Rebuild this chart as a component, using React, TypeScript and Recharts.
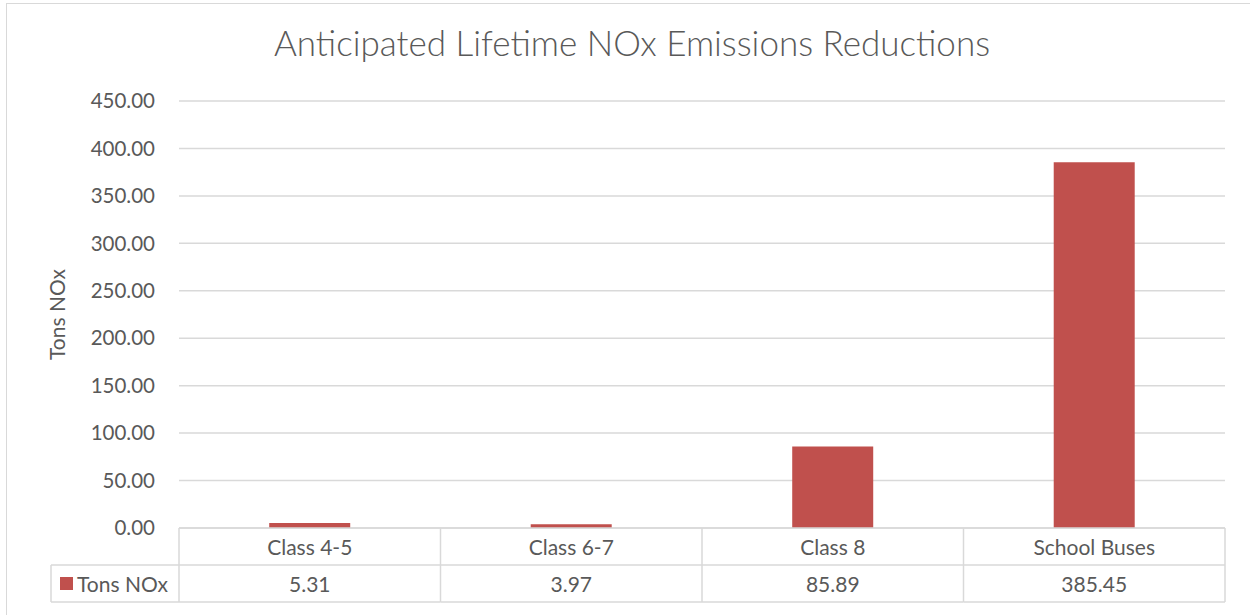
import React from "react";
import { BarChart, Bar, XAxis, YAxis, CartesianGrid } from "recharts";

const CATEGORIES = ["Class 4-5", "Class 6-7", "Class 8", "School Buses"];
const TONS_NOX = [5.31, 3.97, 85.89, 385.45];
const Y_TICKS = [0, 50, 100, 150, 200, 250, 300, 350, 400, 450];
const SERIES_NAME = "Tons NOx";

const data = CATEGORIES.map((name, i) => ({ name, tons: TONS_NOX[i] }));

const W = 1250;
const H = 615;
const MARGIN = { top: 101, right: 25, bottom: 0, left: 0 };
const Y_AXIS_W = 179;
const X_AXIS_H = 87;
const PLOT_W = W - MARGIN.left - MARGIN.right - Y_AXIS_W;
const CELL_W = PLOT_W / CATEGORIES.length;
const ROW_H = 37;
const LEGEND_X = 51;

const FONT = "Lato, 'Open Sans', sans-serif";
const TEXT = "#595959";
const LINE = "#d9d9d9";
const BAR = "#c0504d";
const TABLE_FS = 21;

if (typeof document !== "undefined") document.body.style.margin = "0";

function TableTick(props: any) {
  const { x, y, payload } = props;
  const i = payload.index;
  const half = CELL_W / 2;
  const left = x - half;
  const right = x + half;
  return (
    <g>
      {/* row lines */}
      <line x1={left} x2={right} y1={y + ROW_H} y2={y + ROW_H} stroke={LINE} strokeWidth={1.5} />
      <line x1={left} x2={right} y1={y + ROW_H * 2} y2={y + ROW_H * 2} stroke={LINE} strokeWidth={1.5} />
      <line x1={right} x2={right} y1={y} y2={y + ROW_H * 2} stroke={LINE} strokeWidth={1.5} />
      {i === 0 && (
        <g>
          <line x1={left} x2={left} y1={y} y2={y + ROW_H * 2} stroke={LINE} strokeWidth={1.5} />
          <line x1={LEGEND_X} x2={left} y1={y + ROW_H} y2={y + ROW_H} stroke={LINE} strokeWidth={1.5} />
          <line x1={LEGEND_X} x2={left} y1={y + ROW_H * 2} y2={y + ROW_H * 2} stroke={LINE} strokeWidth={1.5} />
          <line x1={LEGEND_X} x2={LEGEND_X} y1={y + ROW_H} y2={y + ROW_H * 2} stroke={LINE} strokeWidth={1.5} />
          <rect x={60} y={y + ROW_H * 1.5 - 6.5} width={13} height={13} fill={BAR} />
          <text x={77} y={y + ROW_H * 1.5} dominantBaseline="central" fontSize={TABLE_FS} fill={TEXT} fontFamily={FONT}>
            {SERIES_NAME}
          </text>
        </g>
      )}
      <text x={x} y={y + ROW_H / 2} textAnchor="middle" dominantBaseline="central" fontSize={TABLE_FS} fill={TEXT} fontFamily={FONT}>
        {payload.value}
      </text>
      <text x={x} y={y + ROW_H * 1.5} textAnchor="middle" dominantBaseline="central" fontSize={TABLE_FS} fill={TEXT} fontFamily={FONT}>
        {TONS_NOX[i].toFixed(2)}
      </text>
    </g>
  );
}

export default function App() {
  return (
    <div style={{ position: "relative", width: W, height: H, background: "#fff", overflow: "hidden" }}>
      <div
        style={{
          position: "absolute",
          left: 6,
          top: 3,
          width: W,
          height: H,
          border: `1.5px solid ${LINE}`,
        }}
      />
      <div
        style={{
          position: "absolute",
          top: 21,
          left: 0,
          width: W,
          textAlign: "center",
          fontFamily: FONT,
          fontSize: 35,
          fontWeight: 300,
          color: TEXT,
          paddingLeft: 7,
        }}
      >
        Anticipated Lifetime NOx Emissions Reductions
      </div>
      <div style={{ position: "absolute", left: 0, top: 0 }}>
        <BarChart width={W} height={H} data={data} margin={MARGIN} barCategoryGap="34.5%">
          <CartesianGrid vertical={false} stroke={LINE} strokeWidth={1.5} />
          <XAxis
            dataKey="name"
            height={X_AXIS_H}
            axisLine={{ stroke: LINE, strokeWidth: 1.5 }}
            tickLine={false}
            tickSize={0}
            tickMargin={0}
            interval={0}
            tick={<TableTick />}
          />
          <YAxis
            width={Y_AXIS_W}
            domain={[0, 450]}
            ticks={Y_TICKS}
            axisLine={false}
            tickLine={false}
            tickMargin={18}
            tickFormatter={(v: number) => v.toFixed(2)}
            tick={{ fontSize: 20.5, fill: TEXT, fontFamily: FONT }}
            label={{
              value: "Tons NOx",
              angle: -90,
              position: "insideLeft",
              offset: 58,
              style: { textAnchor: "middle", fontSize: 21, fill: TEXT, fontFamily: FONT },
            }}
          />
          <Bar dataKey="tons" name={SERIES_NAME} fill={BAR} isAnimationActive={false} />
        </BarChart>
      </div>
    </div>
  );
}
